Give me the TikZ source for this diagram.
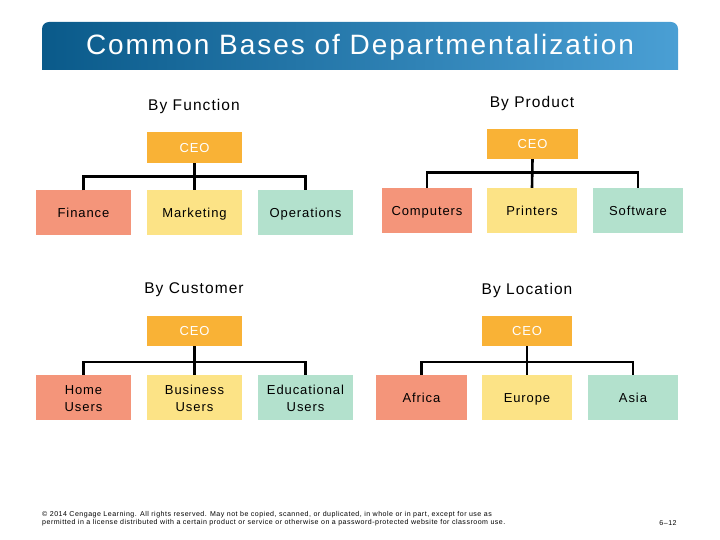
\documentclass[tikz,border=0pt]{standalone}
\usepackage{fontspec}
\setmainfont{Liberation Sans}[LetterSpace=7]
\usetikzlibrary{positioning}
\definecolor{barL}{HTML}{0A5A8A}
\definecolor{barR}{HTML}{4A9FD4}
\definecolor{ceoc}{HTML}{F9B236}
\definecolor{redc}{HTML}{F4957A}
\definecolor{yelc}{HTML}{FCE386}
\definecolor{grnc}{HTML}{B3E1CD}
\tikzset{
    ceo/.style={fill=ceoc, text=white, minimum width=95pt, minimum height=31pt, inner sep=0pt, text height=9.5pt, text depth=0pt, font=\fontsize{13}{15}\selectfont},
    unit/.style={minimum width=95pt, minimum height=44pt, inner sep=0pt, align=center, text height=9.5pt, text depth=0pt, font=\fontsize{13}{17}\selectfont},
    twoline/.style={text height=27pt},
    hd/.style={font=\fontsize{15.5}{18}\selectfont},
    bus/.style={line width=2.6pt},
    fine/.style={anchor=west, inner sep=0pt, font=\fontsize{7.05}{8}\selectfont}
}
\begin{document}
\begin{tikzpicture}[x=1pt, y=-1pt]
    \useasboundingbox (0,0) rectangle (720,540);
    % title bar
    \shade[left color=barL, right color=barR] (42,70) [rounded corners=7pt] -- (42,22) -- (678,22) [sharp corners] -- (678,70) -- cycle;
    \node[text=white, font=\fontsize{28}{32}\selectfont] (title) at (360,47) {Common Bases of Departmentalization};

    % by function
    \node[hd] (hfun) at (194,106) {By Function};
    \node[ceo] (fceo) at (194.5,147.5) {CEO};
    \node[unit, fill=redc] (fin) at (83.5,212.5) {Finance};
    \node[unit, fill=yelc] (mkt) at (194.5,212.5) {Marketing};
    \node[unit, fill=grnc] (ops) at (305.5,212.5) {Operations};
    \draw[bus] (fceo.south) -- (mkt.north);
    \draw[bus] (fin.north) -- ++(0,-14) -| (ops.north);

    % by product
    \node[hd] (hpro) at (532,103) {By Product};
    \node[ceo, minimum width=91pt, minimum height=30pt] (pceo) at (532.5,144) {CEO};
    \node[unit, fill=redc, minimum width=90pt, minimum height=45pt] (comp) at (427,210.5) {Computers};
    \node[unit, fill=yelc, minimum width=90pt, minimum height=45pt] (prn) at (532,210.5) {Printers};
    \node[unit, fill=grnc, minimum width=90pt, minimum height=45pt] (soft) at (638,210.5) {Software};
    \draw[bus] (pceo.south) -- (prn.north);
    \draw[bus] (comp.north) -- ++(0,-15) -| (soft.north);

    % by customer
    \node[hd] (hcus) at (194,290) {By Customer};
    \node[ceo, minimum height=30pt] (cceo) at (194.5,331) {CEO};
    \node[unit, twoline, fill=redc, minimum height=45pt] (home) at (83.5,397.5) {Home\\Users};
    \node[unit, twoline, fill=yelc, minimum height=45pt] (biz) at (194.5,397.5) {Business\\Users};
    \node[unit, twoline, fill=grnc, minimum height=45pt] (edu) at (305.5,397.5) {Educational\\Users};
    \draw[bus] (cceo.south) -- (biz.north);
    \draw[bus] (home.north) -- ++(0,-13) -| (edu.north);

    % by location
    \node[hd] (hloc) at (527,290) {By Location};
    \node[ceo, minimum width=90pt, minimum height=30pt] (lceo) at (527,331) {CEO};
    \node[unit, fill=redc, minimum width=91pt, minimum height=45pt] (afr) at (421.5,397.5) {Africa};
    \node[unit, fill=yelc, minimum width=90pt, minimum height=45pt] (eur) at (527,397.5) {Europe};
    \node[unit, fill=grnc, minimum width=90pt, minimum height=45pt] (asia) at (633,397.5) {Asia};
    \draw[bus] (lceo.south) -- (eur.north);
    \draw[bus] (afr.north) -- ++(0,-13) -| (asia.north);

    % footer
    \node[fine] (cp1) at (42,515) {© 2014 Cengage Learning. All rights reserved. May not be copied, scanned, or duplicated, in whole or in part, except for use as};
    \node[fine] (cp2) at (42,523) {permitted in a license distributed with a certain product or service or otherwise on a password-protected website for classroom use.};
    \node[fine, anchor=center] (pg) at (668,523) {6–12};
\end{tikzpicture}
\end{document}
